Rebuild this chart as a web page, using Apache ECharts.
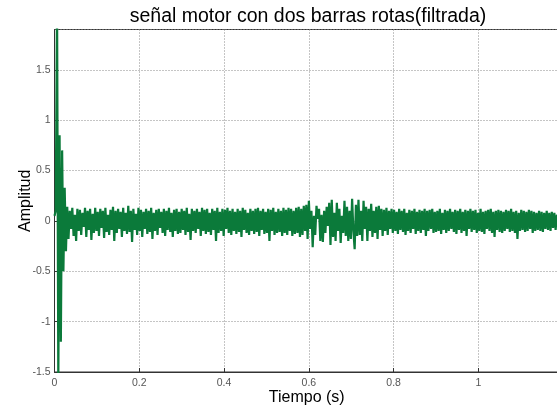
<!DOCTYPE html>
<html>
<head>
<meta charset="utf-8">
<script src="https://cdn.jsdelivr.net/npm/echarts@6/dist/echarts.min.js"></script>
<style>
  html, body { margin: 0; padding: 0; background: #fff; }
  #main { width: 557px; height: 406px; }
</style>
</head>
<body>
<div id="main"></div>
<script>
// signal samples (amplitude), one every sampleStep seconds
var sampleStep = 0.003;
var amplitud = [
  0.05, 0.1, 2.2, -1.6, 0.85, -1.2, 0.7, -0.5, 0.33, -0.3,
  0.14, -0.18, 0.1, -0.08, 0.13, -0.15, 0.06, -0.2, 0.12, -0.1,
  0.11, -0.14, 0.08, -0.06, 0.13, -0.16, 0.1, -0.09, 0.12, -0.19,
  0.07, -0.12, 0.13, -0.1, 0.09, -0.15, 0.12, -0.07, 0.1, -0.17,
  0.13, -0.11, 0.06, -0.14, 0.11, -0.09, 0.14, -0.2, 0.1, -0.12,
  0.12, -0.08, 0.09, -0.16, 0.13, -0.1, 0.08, -0.13, 0.15, -0.11,
  0.1, -0.21, 0.12, -0.09, 0.07, -0.14, 0.13, -0.1, 0.11, -0.16,
  0.09, -0.08, 0.12, -0.13, 0.1, -0.11, 0.13, -0.18, 0.08, -0.1,
  0.11, -0.14, 0.12, -0.07, 0.09, -0.12, 0.12, -0.15, 0.1, -0.09,
  0.13, -0.11, 0.08, -0.16, 0.11, -0.1, 0.12, -0.13, 0.09, -0.12,
  0.12, -0.09, 0.1, -0.14, 0.13, -0.11, 0.07, -0.19, 0.12, -0.1,
  0.1, -0.12, 0.12, -0.08, 0.09, -0.15, 0.13, -0.1, 0.11, -0.13,
  0.12, -0.11, 0.08, -0.14, 0.12, -0.09, 0.1, -0.2, 0.13, -0.12,
  0.09, -0.1, 0.12, -0.15, 0.11, -0.08, 0.13, -0.12, 0.1, -0.14,
  0.12, -0.1, 0.09, -0.13, 0.12, -0.11, 0.1, -0.16, 0.13, -0.09,
  0.11, -0.12, 0.08, -0.14, 0.12, -0.1, 0.1, -0.13, 0.12, -0.11,
  0.13, -0.15, 0.1, -0.09, 0.12, -0.13, 0.09, -0.12, 0.12, -0.2,
  0.11, -0.1, 0.13, -0.14, 0.09, -0.12, 0.12, -0.11, 0.1, -0.15,
  0.13, -0.12, 0.11, -0.14, 0.13, -0.1, 0.12, -0.15, 0.1, -0.13,
  0.13, -0.12, 0.14, -0.16, 0.12, -0.14, 0.15, -0.1, 0.16, -0.18,
  0.2, -0.08, 0.1, -0.26, 0.05, -0.14, 0.15, 0.02, 0.12, -0.2,
  0.06, -0.21, 0.1, -0.12, 0.14, -0.05, 0.18, -0.24, 0.21, -0.16,
  0.08, -0.2, 0.18, -0.1, 0.12, -0.22, 0.05, -0.12, 0.2, -0.15,
  0.14, -0.2, 0.1, -0.18, 0.22, -0.1, -0.28, 0.16, -0.15, 0.21,
  -0.14, 0.1, -0.2, 0.2, -0.08, 0.14, -0.2, 0.12, -0.1, 0.17,
  -0.16, 0.1, -0.12, 0.14, -0.18, 0.15, -0.09, 0.12, -0.15, 0.11,
  -0.1, 0.13, -0.14, 0.1, -0.08, 0.12, -0.12, 0.11, -0.1, 0.09,
  -0.13, 0.12, -0.09, 0.1, -0.11, 0.12, -0.14, 0.08, -0.1, 0.11,
  -0.12, 0.1, -0.08, 0.12, -0.13, 0.09, -0.1, 0.11, -0.12, 0.1,
  -0.09, 0.12, -0.15, 0.1, -0.1, 0.11, -0.08, 0.12, -0.12, 0.09,
  -0.11, 0.1, -0.1, 0.12, -0.13, 0.08, -0.09, 0.11, -0.12, 0.1,
  -0.1, 0.12, -0.08, 0.09, -0.11, 0.11, -0.13, 0.1, -0.09, 0.12,
  -0.12, 0.09, -0.1, 0.11, -0.15, 0.1, -0.08, 0.12, -0.11, 0.1,
  -0.09, 0.11, -0.12, 0.08, -0.1, 0.12, -0.11, 0.09, -0.13, 0.1,
  -0.08, 0.11, -0.1, 0.12, -0.12, 0.09, -0.16, 0.1, -0.09, 0.11,
  -0.11, 0.1, -0.12, 0.09, -0.1, 0.11, -0.08, 0.1, -0.11, 0.12,
  -0.1, 0.09, -0.12, 0.1, -0.18, 0.08, -0.1, 0.11, -0.09, 0.1,
  -0.11, 0.09, -0.1, 0.11, -0.08, 0.1, -0.12, 0.09, -0.1, 0.08,
  -0.09, 0.1, -0.1, 0.09, -0.11, 0.08, -0.08, 0.1, -0.09, 0.08,
  -0.1, 0.09, -0.07, 0.08, -0.09, 0.06, 0.03
];

var xTicks = [0, 0.2, 0.4, 0.6, 0.8, 1];
var yTicks = [-1.5, -1, -0.5, 0, 0.5, 1, 1.5];

var puntos = amplitud.map(function (v, i) {
  return [+(i * sampleStep).toFixed(4), v];
});

var myChart = echarts.init(document.getElementById('main'));

var gridLine = { show: true, lineStyle: { color: '#8a8a8a', type: [1, 2], width: 1 } };

var option = {
  animation: false,
  backgroundColor: '#fff',
  title: {
    text: 'señal motor con dos barras rotas(filtrada)',
    left: 303,
    textAlign: 'center',
    top: 2,
    textStyle: { fontFamily: 'Liberation Sans', fontSize: 19.5, fontWeight: 'normal', color: '#000' }
  },
  grid: {
    left: 54.5, top: 29.5, right: -2, bottom: 34,
    outerBoundsMode: 'none',
    show: true, borderColor: '#333', borderWidth: 1
  },
  xAxis: {
    type: 'value',
    min: 0, max: 1.19, interval: 0.2,
    name: 'Tiempo (s)',
    nameLocation: 'middle',
    nameGap: 18,
    nameMoveOverlap: false,
    nameTextStyle: { fontFamily: 'Liberation Sans', fontSize: 16, color: '#000' },
    axisLine: { show: true, onZero: false, lineStyle: { color: '#333' } },
    axisTick: { show: true, inside: true, length: 4, lineStyle: { color: '#333' } },
    axisLabel: {
      showMaxLabel: false, margin: 6,
      fontFamily: 'Liberation Sans', fontSize: 10.5, color: '#555',
      formatter: function (v) { return xTicks.indexOf(+v.toFixed(2)) >= 0 ? String(+v.toFixed(2)) : ''; }
    },
    splitLine: gridLine
  },
  yAxis: {
    type: 'value',
    min: -1.5, max: 1.9, interval: 0.5,
    name: 'Amplitud',
    nameLocation: 'middle',
    nameGap: 21,
    nameMoveOverlap: false,
    nameTextStyle: { fontFamily: 'Liberation Sans', fontSize: 16, color: '#000' },
    axisLine: { show: true, lineStyle: { color: '#333' } },
    axisTick: { show: true, inside: true, length: 4, lineStyle: { color: '#333' } },
    axisLabel: {
      showMaxLabel: false, margin: 4,
      fontFamily: 'Liberation Sans', fontSize: 10.5, color: '#555',
      formatter: function (v) { return yTicks.indexOf(+v.toFixed(2)) >= 0 ? String(+v.toFixed(2)) : ''; }
    },
    splitLine: gridLine
  },
  series: [{
    type: 'line',
    data: puntos,
    showSymbol: false,
    clip: true,
    lineStyle: { color: '#0b7a3a', width: 2.2 },
    itemStyle: { color: '#0b7a3a' }
  }]
};

myChart.setOption(option);
</script>
</body>
</html>
